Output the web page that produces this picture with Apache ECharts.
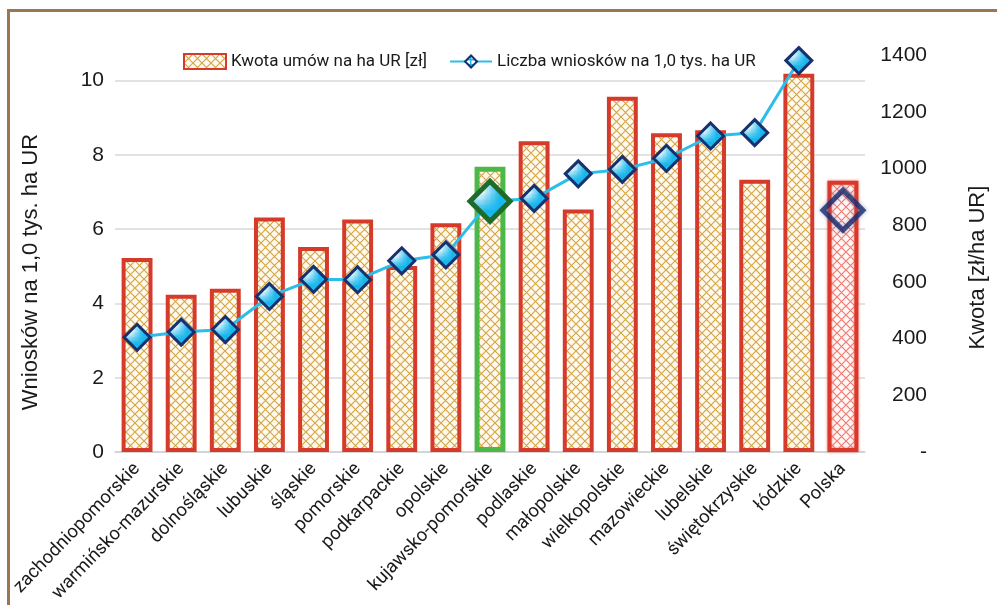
<!DOCTYPE html>
<html><head><meta charset="utf-8">
<script src="https://cdn.jsdelivr.net/npm/echarts@6/dist/echarts.min.js"></script>
<style>
html,body{margin:0;padding:0;background:#fff;width:997px;height:605px;overflow:hidden}
#frame{position:absolute;left:7px;top:9px;width:995px;height:600px;border-top:3px solid #9a7752;border-left:3px solid #9a7752;box-sizing:border-box}
#c{position:absolute;left:0;top:0;width:997px;height:605px}
</style>
</head><body><div id="frame"></div><div id="c"></div>
<script>
const categories = ['zachodniopomorskie','warmińsko-mazurskie','dolnośląskie','lubuskie','śląskie','pomorskie','podkarpackie','opolskie','kujawsko-pomorskie','podlaskie','małopolskie','wielkopolskie','mazowieckie','lubelskie','świętokrzyskie','łódzkie','Polska'];
const kwota = [684, 555, 576, 827, 723, 820, 656, 807, 1006, 1096, 855, 1253, 1124, 1135, 960, 1334, 957];
const liczba = [3.09, 3.23, 3.30, 4.19, 4.65, 4.64, 5.15, 5.31, 6.75, 6.83, 7.49, 7.61, 7.91, 8.51, 8.60, 10.54, 6.51];
const leftAxisMax = 10.69, leftAxisInterval = 2;
const rightAxisMax = 1400, rightAxisInterval = 200;
const nameBar = 'Kwota umów na ha UR [zł]';
const nameLine = 'Liczba wniosków na 1,0 tys. ha UR';
const highlightIdx = 8, totalIdx = 16;

function hatch(bg, fg, size, lw) {
  const c = document.createElement('canvas');
  c.width = size; c.height = size;
  const g = c.getContext('2d');
  g.fillStyle = bg; g.fillRect(0, 0, size, size);
  g.strokeStyle = fg; g.lineWidth = lw;
  g.beginPath();
  g.moveTo(0, 0); g.lineTo(size, size);
  g.moveTo(size, 0); g.lineTo(0, size);
  g.stroke();
  return { image: c, repeat: 'repeat' };
}
function grid(bg, fg, size, lw) {
  const c = document.createElement('canvas');
  c.width = size; c.height = size;
  const g = c.getContext('2d');
  g.fillStyle = bg; g.fillRect(0, 0, size, size);
  g.fillStyle = fg;
  g.fillRect(0, 0, size, lw);
  g.fillRect(0, 0, lw, size);
  return { image: c, repeat: 'repeat' };
}
const tanHatch = hatch('#fffaf0', '#d4a648', 9, 1.2);
const redHatch = hatch('#fff8f8', '#f27b72', 9, 1.2);
const cyanGrid = grid('#ffffff', '#14b6ec', 5, 1.4);

const barData = kwota.map((v, i) => {
  if (i === highlightIdx) return { value: v, itemStyle: { borderColor: '#4cb848', borderWidth: 5 } };
  if (i === totalIdx) return { value: v, itemStyle: { color: redHatch, borderColor: '#d8392b',
    shadowColor: 'rgba(235,110,100,0.9)', shadowBlur: 3 } };
  return v;
});
const lineData = liczba.map((v, i) => {
  if (i === totalIdx) return '-';
  if (i === highlightIdx) return { value: v, symbolSize: 40, itemStyle: { borderColor: '#1f6b2c', borderWidth: 5 } };
  return v;
});
const totalData = liczba.map((v, i) => i === totalIdx ? v : '-');

const font = 'Liberation Sans, Arial, sans-serif';
const narrow = 'Roboto, Liberation Sans, sans-serif';

const chart = echarts.init(document.getElementById('c'));
chart.setOption({
  animation: false,
  backgroundColor: 'transparent',
  grid: { left: 115, right: 124, top: 55, bottom: 149, containLabel: false },
  legend: {
    left: 178, top: 48, itemGap: 22, itemWidth: 42, itemHeight: 15,
    textStyle: { fontFamily: narrow, fontSize: 17, color: '#1a1a1a' },
    data: [{ name: nameBar, icon: 'rect' }, { name: nameLine }]
  },
  xAxis: {
    type: 'category', data: categories,
    axisLine: { lineStyle: { color: '#d0d0d0', width: 1.5 } },
    axisTick: { length: 6, lineStyle: { color: '#d0d0d0', width: 1.5 } },
    axisLabel: { rotate: 46, interval: 0, margin: 14, fontFamily: narrow, fontSize: 18.5, color: '#1a1a1a' }
  },
  yAxis: [{
    type: 'value', position: 'left', min: 0, max: leftAxisMax, interval: leftAxisInterval,
    name: 'Wniosków na 1,0 tys. ha UR', nameLocation: 'middle', nameGap: 73,
    nameTextStyle: { fontFamily: font, fontSize: 22, color: '#1a1a1a', padding: [0, 37, 0, 0] },
    axisLine: { show: false }, axisTick: { show: false },
    axisLabel: { showMaxLabel: false, fontFamily: font, fontSize: 21, color: '#1a1a1a', margin: 11 },
    splitLine: { show: true, showMaxLine: false, lineStyle: { color: '#d9d9d9', width: 1.5 } }
  }, {
    type: 'value', position: 'right', min: 0, max: rightAxisMax, interval: rightAxisInterval,
    name: 'Kwota [zł/ha UR]', nameLocation: 'middle', nameGap: 102,
    nameTextStyle: { fontFamily: font, fontSize: 22, color: '#1a1a1a', padding: [0, 28, 0, 0] },
    axisLine: { show: false }, axisTick: { show: false },
    axisLabel: { fontFamily: font, fontSize: 21, color: '#1a1a1a', margin: 62, align: 'right',
      formatter: v => v === 0 ? '-' : String(v) },
    splitLine: { show: false }
  }],
  series: [{
    name: nameBar, type: 'bar', yAxisIndex: 1, data: barData, barWidth: '70%',
    itemStyle: { color: tanHatch, borderColor: '#d63a2a', borderWidth: 4 },
    z: 2
  }, {
    name: nameLine, type: 'line', yAxisIndex: 0, data: lineData,
    symbol: 'diamond', symbolSize: 26, connectNulls: false,
    lineStyle: { color: '#2dbde9', width: 3 },
    itemStyle: { color: cyanGrid, borderColor: '#17306e', borderWidth: 3 },
    z: 4
  }, {
    name: 'Polska-marker', type: 'scatter', yAxisIndex: 0, data: totalData,
    symbol: 'diamond', symbolSize: 40,
    itemStyle: { color: 'rgba(255,255,255,0)', borderColor: '#1b2d6b', borderWidth: 5,
      shadowColor: 'rgba(60,90,170,0.6)', shadowBlur: 4 },
    z: 5
  }]
});
</script>
</body></html>
